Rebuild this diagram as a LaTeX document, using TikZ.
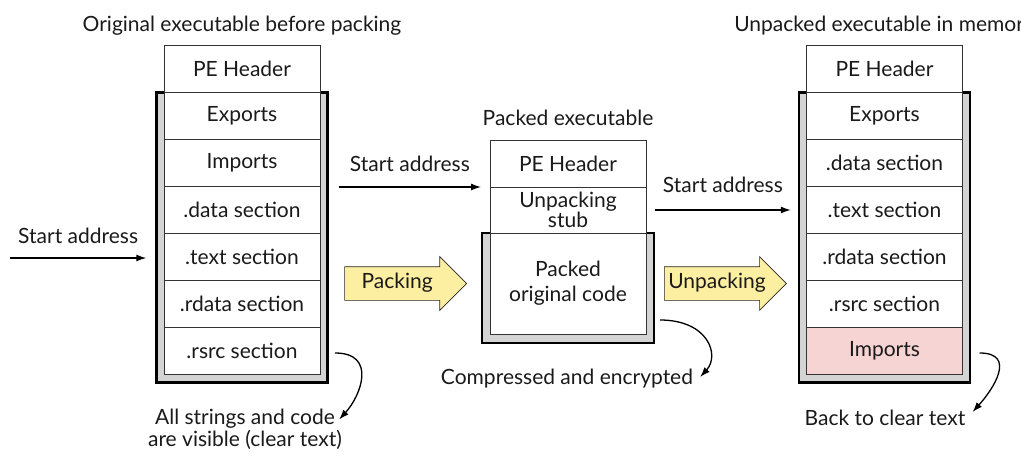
\documentclass[tikz,border=0pt]{standalone}
\usepackage{fontspec}
\setmainfont{Lato}
\usetikzlibrary{calc,arrows.meta,positioning,shapes.arrows,fit,backgrounds}
\definecolor{framegray}{HTML}{D4D4D4}
\definecolor{packyellow}{HTML}{FCEFA1}
\definecolor{importpink}{HTML}{F7D4D4}
\definecolor{inkdark}{HTML}{1A1A1A}
\tikzset{
  sect/.style={draw=black!80, line width=0.9pt, fill=white, minimum width=156pt,
    minimum height=47pt, inner sep=0pt, outer sep=0pt, align=center, text=inkdark},
  frame/.style={draw=black, line width=2.4pt, fill=framegray, inner sep=0pt},
  bigarr/.style={single arrow, draw=black!85, line width=0.6pt, fill=packyellow,
    single arrow head extend=10pt, single arrow head indent=0pt, minimum height=122pt,
    inner xsep=3pt, inner ysep=7.5pt, text height=14pt, text depth=4pt, text=inkdark},
  arr/.style={-{Latex[length=10pt,width=7pt]}, line width=1.3pt},
  txt/.style={inner sep=1pt, text=inkdark, align=center}
}

\begin{document}
\begin{tikzpicture}[x=1pt, y=1pt, font=\fontsize{21}{24}\selectfont]
  \useasboundingbox (0,0) rectangle (1021,459);

  % original executable
  \node[sect] (pe1) at (242,390) {PE Header};
  \node[sect, below=0pt of pe1] (exp1) {Exports};
  \node[sect, below=0pt of exp1] (imp1) {Imports};
  \node[sect, below=0pt of imp1] (data1) {.data section};
  \node[sect, below=0pt of data1] (text1) {.text section};
  \node[sect, below=0pt of text1] (rdata1) {.rdata section};
  \node[sect, below=0pt of rdata1] (rsrc1) {.rsrc section};
  \begin{scope}[on background layer]
    \node[frame, fit={($(exp1.north west)+(-7.5,0)$) ($(rsrc1.south east)+(7.5,-8)$)}] (frame1) {};
  \end{scope}
  \node[txt, above=9pt of pe1] (title1) {Original executable before packing};

  % packed executable
  \node[sect] (pe2) at (568,295.5) {PE Header};
  \node[sect, below=0pt of pe2, minimum height=46pt, font=\fontsize{21}{18}\selectfont] (stub2) {Unpacking\\stub};
  \node[sect, below=0pt of stub2, minimum height=101pt, font=\fontsize{21}{25}\selectfont] (packed2) {Packed\\original code};
  \begin{scope}[on background layer]
    \node[frame, fit={($(packed2.north west)+(-8,0)$) ($(packed2.south east)+(8,-9)$)}] (frame2) {};
  \end{scope}
  \node[txt, above=13pt of pe2] (title2) {Packed executable};

  % unpacked executable
  \node[sect] (pe3) at (884.5,390) {PE Header};
  \node[sect, below=0pt of pe3] (exp3) {Exports};
  \node[sect, below=0pt of exp3] (data3) {.data section};
  \node[sect, below=0pt of data3] (text3) {.text section};
  \node[sect, below=0pt of text3] (rdata3) {.rdata section};
  \node[sect, below=0pt of rdata3] (rsrc3) {.rsrc section};
  \node[sect, below=0pt of rsrc3, fill=importpink] (imp3) {Imports};
  \begin{scope}[on background layer]
    \node[frame, fit={($(exp3.north west)+(-7.5,0)$) ($(imp3.south east)+(7.5,-8)$)}] (frame3) {};
  \end{scope}
  \node[txt, above=9pt of pe3] (title3) {Unpacked executable in memory};

  % start addresses
  \coordinate (sa1) at (10,201);
  \draw[arr] (sa1) -- ($(sa1 -| frame1.west)+(-9,0)$) node[txt, midway, above=13pt] (start1) {Start address};
  \draw[arr] ($(frame1.east |- pe2.south)+(10,0)$) -- ($(pe2.south west)+(-9,0)$) node[txt, midway, above=14pt] (start2) {Start address};
  \draw[arr] ($(stub2.east)+(9,0)$) -- ($(stub2 -| frame3.west)+(-7,0)$) node[txt, midway, above=16pt] (start3) {Start address};

  % packing steps
  \node[bigarr, anchor=tip] (pack) at ($(packed2.west)+(-23,0)$) {Packing};
  \node[bigarr, anchor=tip] (unpack) at ($(frame3.west |- packed2.west)+(-11,0)$) {Unpacking};

  % notes
  \node[txt, font=\fontsize{21}{22}\selectfont] (note1) at (245,30) {All strings and code\\are visible (clear text)};
  \node[txt] (note2) at (567,80) {Compressed and encrypted};
  \node[txt] (note3) at (885,41) {Back to clear text};
  \draw[arr] ($(rsrc1.east)+(15,-2)$) .. controls +(42,0) and +(22,24) .. ($(note1.north east)+(-4,-12)$);
  \draw[arr] ($(packed2.south east)+(14,14)$) .. controls +(48,0) and +(20,22) .. ($(note2.east)+(6,2)$);
  \draw[arr] ($(imp3.east)+(17,-2)$) .. controls +(38,0) and +(20,22) .. ($(note3.east)+(6,6)$);
\end{tikzpicture}
\end{document}
